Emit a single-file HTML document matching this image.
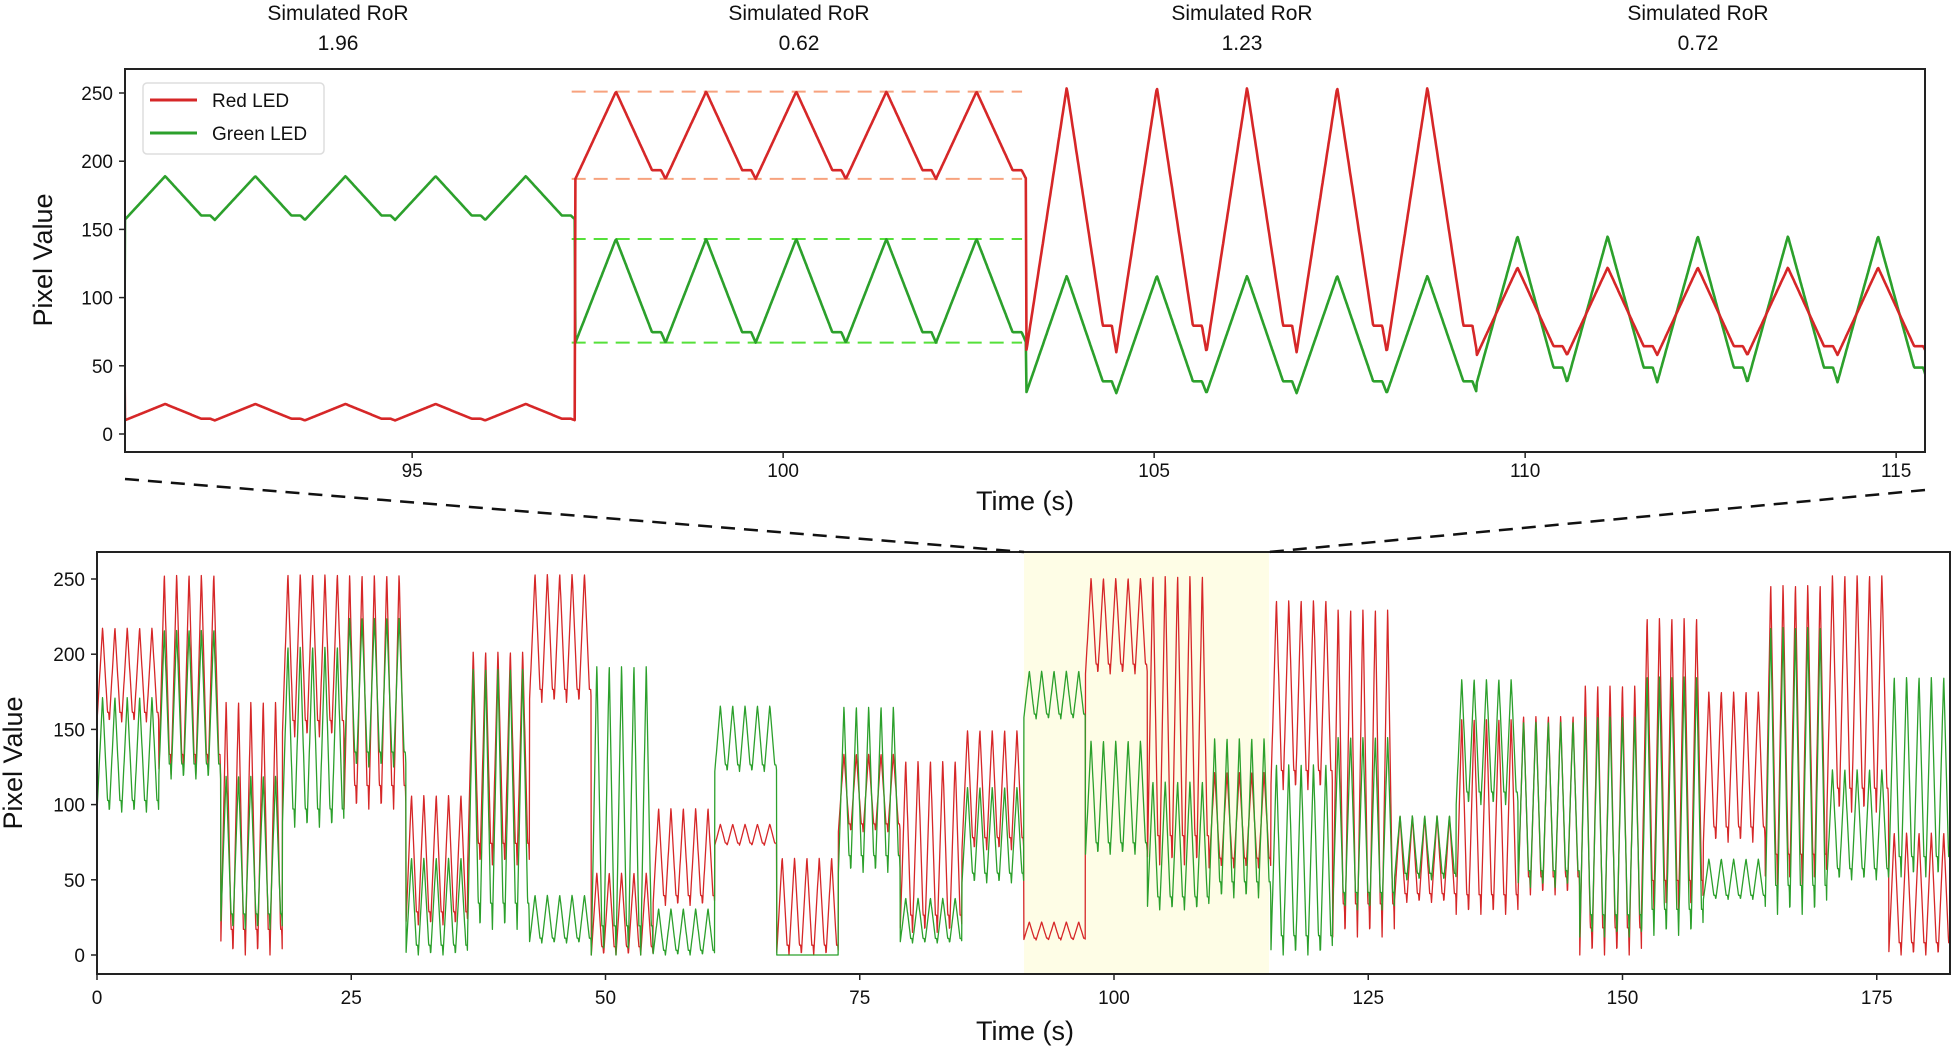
<!DOCTYPE html>
<html><head><meta charset="utf-8">
<style>
html,body{margin:0;padding:0;background:#fff;}
body{width:1955px;height:1050px;overflow:hidden;}
svg{display:block;font-family:"Liberation Sans",sans-serif;}
</style></head>
<body>
<svg id="s" width="1955" height="1050" viewBox="0 0 1955 1050" xmlns="http://www.w3.org/2000/svg">
<defs>
<clipPath id="ct"><rect x="125" y="69" width="1800" height="383"/></clipPath>
<clipPath id="cb"><rect x="97" y="552" width="1853" height="422"/></clipPath>
</defs>
<g font-size="21" text-anchor="middle" fill="#111">
<text x="338" y="20">Simulated RoR</text><text x="338" y="50">1.96</text>
<text x="799" y="20">Simulated RoR</text><text x="799" y="50">0.62</text>
<text x="1242" y="20">Simulated RoR</text><text x="1242" y="50">1.23</text>
<text x="1698" y="20">Simulated RoR</text><text x="1698" y="50">0.72</text>
</g>
<rect x="1024" y="552" width="245" height="422" fill="#fefde6"/>
<g id="gtop" clip-path="url(#ct)"></g>
<g id="gbot" clip-path="url(#cb)"></g>
<rect x="125" y="69" width="1800" height="383" fill="none" stroke="#222" stroke-width="2"/>
<rect x="97" y="552" width="1853" height="422" fill="none" stroke="#222" stroke-width="2"/>
<line x1="125" y1="479" x2="1024" y2="552" stroke="#111" stroke-width="2.5" stroke-dasharray="14,9"/>
<line x1="1925" y1="490" x2="1269" y2="552" stroke="#111" stroke-width="2.5" stroke-dasharray="14,9"/>
<rect x="143" y="83" width="181" height="71" rx="4" fill="#fff" stroke="#ddd" stroke-width="1.5"/>
<line x1="150" y1="100" x2="197" y2="100" stroke="#d62728" stroke-width="3"/>
<line x1="150" y1="133" x2="197" y2="133" stroke="#2ca02c" stroke-width="3"/>
<text x="212" y="107" font-size="19" fill="#111">Red LED</text>
<text x="212" y="140" font-size="19" fill="#111">Green LED</text>
<text transform="translate(52,260) rotate(-90)" font-size="27" text-anchor="middle" fill="#111">Pixel Value</text>
<text x="1025" y="510" font-size="27" text-anchor="middle" fill="#111">Time (s)</text>
<text transform="translate(22,763) rotate(-90)" font-size="27" text-anchor="middle" fill="#111">Pixel Value</text>
<text x="1025" y="1040" font-size="27" text-anchor="middle" fill="#111">Time (s)</text>
<g id="ticks" font-size="19" fill="#111"></g>
</svg>
<script>
(function(){
var NS="http://www.w3.org/2000/svg";
function el(p,tag,a,txt){var e=document.createElementNS(NS,tag);for(var k in a)e.setAttribute(k,a[k]);if(txt!=null)e.textContent=txt;p.appendChild(e);return e;}
var segs=[
[155,218,95,172],[120,254,117,217],[0,170,17,120],[145,254,85,206],[97,254,125,225],
[20,107,0,65],[60,203,17,192],[168,254,8,40],[0,55,0,194],[33,98,0,31],
[73,87,122,166],[0,65,0,0],[82,134,55,166],[15,130,8,38],[70,150,48,112],
[10,22,157,189],[187,251,67,143],[60,254,30,116],[58,122,38,145],[110,237,0,128],
[12,232,30,146],[35,93,50,93],[27,158,100,184],[40,160,45,156],[0,181,12,160],
[30,226,13,187],[75,176,37,64],[47,248,27,220],[95,254,50,124],[0,82,52,186]];
var L=6.075,P=1.215;
function wave(p,mn,mx){var fl=mn+0.1*(mx-mn);
 if(p<0.45)return mn+(mx-mn)*p/0.45;
 if(p<0.85)return mx-(mx-fl)*(p-0.45)/0.4;
 if(p<0.95)return fl;
 return fl-(fl-mn)*(p-0.95)/0.05;}
function val(t,ch){var k=Math.floor(t/L);if(k<0)k=0;if(k>29)k=29;var s=segs[k];var tt=t-k*L;var p=(tt/P)%1;
 return ch==0?wave(p,s[0],s[1]):wave(p,s[2],s[3]);}
function path(g,X,Y,t0,t1,dt,ch,col,w){var d="";for(var t=t0;t<=t1;t+=dt){d+=(d?"L":"M")+X(t).toFixed(1)+","+Y(val(t,ch)).toFixed(1);}
 el(g,"path",{d:d,fill:"none",stroke:col,"stroke-width":w,"stroke-linejoin":"round"});}
var R="#d62728",G="#2ca02c";
var gt=document.getElementById("gtop"),gb=document.getElementById("gbot");
var XT=function(t){return 125+(t-91.13)*74.2},YT=function(v){return 434-v*1.364};
var XB=function(t){return 97+t*10.17},YB=function(v){return 955-v*1.504};
[[251,"#f7a27e"],[187,"#f7a27e"],[143,"#55e03a"],[67,"#55e03a"]].forEach(function(a){
 el(gt,"line",{x1:XT(97.15),x2:XT(103.22),y1:YT(a[0]),y2:YT(a[0]),stroke:a[1],"stroke-width":2,"stroke-dasharray":"14,8"});});
path(gt,XT,YT,91.0,115.5,0.01,1,G,2.6);
path(gt,XT,YT,91.0,115.5,0.01,0,R,2.6);
path(gb,XB,YB,0,182.3,0.03,0,R,1.3);
path(gb,XB,YB,0,182.3,0.03,1,G,1.3);
var tk=document.getElementById("ticks");
[0,50,100,150,200,250].forEach(function(v){
 el(tk,"line",{x1:119,x2:125,y1:YT(v),y2:YT(v),stroke:"#222","stroke-width":1.5});
 el(tk,"text",{x:113,y:YT(v)+7,"text-anchor":"end"},String(v));
 el(tk,"line",{x1:91,x2:97,y1:YB(v),y2:YB(v),stroke:"#222","stroke-width":1.5});
 el(tk,"text",{x:85,y:YB(v)+7,"text-anchor":"end"},String(v));});
[95,100,105,110,115].forEach(function(t){
 el(tk,"line",{x1:XT(t),x2:XT(t),y1:452,y2:458,stroke:"#222","stroke-width":1.5});
 el(tk,"text",{x:XT(t),y:477,"text-anchor":"middle"},String(t));});
[0,25,50,75,100,125,150,175].forEach(function(t){
 el(tk,"line",{x1:XB(t),x2:XB(t),y1:974,y2:980,stroke:"#222","stroke-width":1.5});
 el(tk,"text",{x:XB(t),y:1004,"text-anchor":"middle"},String(t));});
})();
</script>
</body></html>
